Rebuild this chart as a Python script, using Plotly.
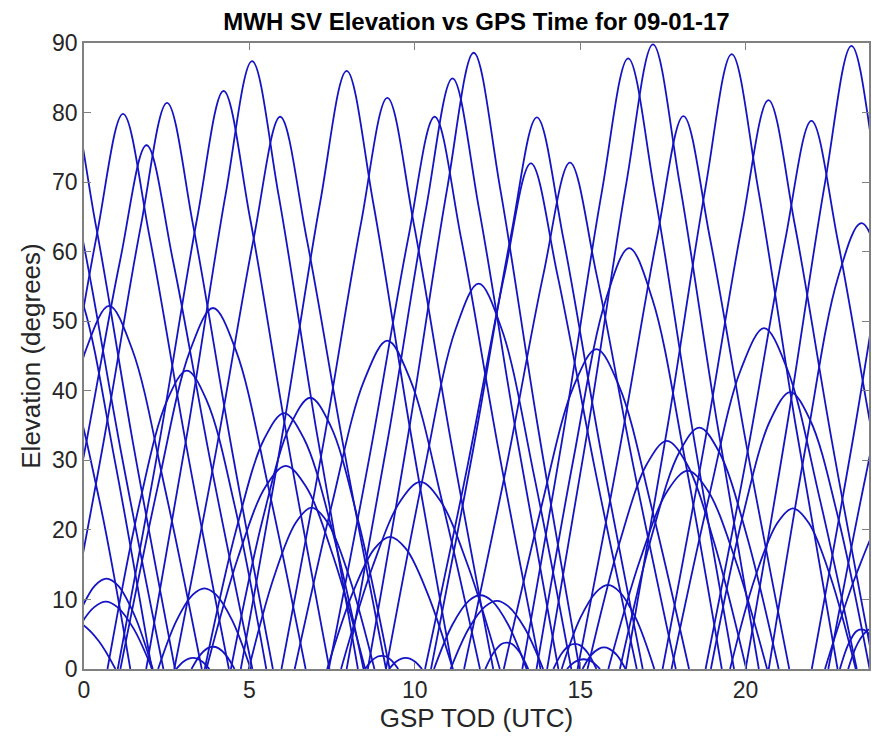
import plotly.graph_objects as go

# Satellite passes: (GPS time of day [h], elevation [deg])
high_passes = [
    ([-2.02, -0.74, 0.38, 1.18, 1.98, 3.10, 4.38], [0, 31.9, 62.2, 79.8, 62.2, 31.9, 0]),
    ([-1.31, -0.03, 1.09, 1.89, 2.69, 3.81, 5.09], [0, 30.1, 58.7, 75.3, 58.7, 30.1, 0]),
    ([-0.69, 0.59, 1.71, 2.51, 3.31, 4.43, 5.71], [0, 32.6, 63.5, 81.4, 63.5, 32.6, 0]),
    ([1.02, 2.30, 3.42, 4.22, 5.02, 6.14, 7.42], [0, 33.2, 64.8, 83.1, 64.8, 33.2, 0]),
    ([1.88, 3.16, 4.28, 5.08, 5.88, 7.00, 8.28], [0, 35.0, 68.2, 87.4, 68.2, 35.0, 0]),
    ([2.73, 4.01, 5.13, 5.93, 6.73, 7.85, 9.13], [0, 31.8, 61.9, 79.4, 61.9, 31.8, 0]),
    ([4.74, 6.02, 7.14, 7.94, 8.74, 9.86, 11.14], [0, 34.4, 67.1, 86.0, 67.1, 34.4, 0]),
    ([5.97, 7.25, 8.37, 9.17, 9.97, 11.09, 12.37], [0, 32.8, 64.0, 82.1, 64.0, 32.8, 0]),
    ([7.40, 8.68, 9.80, 10.60, 11.40, 12.52, 13.80], [0, 31.8, 61.9, 79.4, 61.9, 31.8, 0]),
    ([7.94, 9.22, 10.34, 11.14, 11.94, 13.06, 14.34], [0, 34.0, 66.2, 84.9, 66.2, 34.0, 0]),
    ([8.58, 9.86, 10.98, 11.78, 12.58, 13.70, 14.98], [0, 35.4, 69.1, 88.6, 69.1, 35.4, 0]),
    ([10.49, 11.77, 12.89, 13.69, 14.49, 15.61, 16.89], [0, 31.7, 61.9, 79.3, 61.9, 31.7, 0]),
    ([10.31, 11.59, 12.71, 13.51, 14.31, 15.43, 16.71], [0, 29.1, 56.7, 72.7, 56.7, 29.1, 0]),
    ([11.49, 12.77, 13.89, 14.69, 15.49, 16.61, 17.89], [0, 29.1, 56.8, 72.8, 56.8, 29.1, 0]),
    ([13.25, 14.53, 15.65, 16.45, 17.25, 18.37, 19.65], [0, 35.1, 68.5, 87.8, 68.5, 35.1, 0]),
    ([14.00, 15.28, 16.40, 17.20, 18.00, 19.12, 20.40], [0, 35.9, 70.0, 89.8, 70.0, 35.9, 0]),
    ([14.92, 16.20, 17.32, 18.12, 18.92, 20.04, 21.32], [0, 31.8, 62.0, 79.5, 62.0, 31.8, 0]),
    ([16.38, 17.66, 18.78, 19.58, 20.38, 21.50, 22.78], [0, 35.4, 69.0, 88.4, 69.0, 35.4, 0]),
    ([17.49, 18.77, 19.89, 20.69, 21.49, 22.61, 23.89], [0, 32.7, 63.8, 81.8, 63.8, 32.7, 0]),
    ([18.79, 20.07, 21.19, 21.99, 22.79, 23.91, 25.19], [0, 31.5, 61.5, 78.8, 61.5, 31.5, 0]),
    ([20.00, 21.28, 22.40, 23.20, 24.00, 25.12, 26.40], [0, 35.8, 69.9, 89.6, 69.9, 35.8, 0]),
]

mid_passes = [
    ([-2.04, -0.92, 0.06, 0.76, 1.46, 2.44, 3.56], [0, 26.1, 45.9, 52.2, 45.9, 26.1, 0]),
    ([1.10, 2.22, 3.20, 3.90, 4.60, 5.58, 6.70], [0, 26.0, 45.7, 51.9, 45.7, 26.0, 0]),
    ([6.37, 7.49, 8.47, 9.17, 9.87, 10.85, 11.97], [0, 23.6, 41.5, 47.2, 41.5, 23.6, 0]),
    ([9.13, 10.25, 11.23, 11.93, 12.63, 13.61, 14.73], [0, 27.7, 48.8, 55.4, 48.8, 27.7, 0]),
    ([13.68, 14.80, 15.78, 16.48, 17.18, 18.16, 19.28], [0, 30.3, 53.2, 60.5, 53.2, 30.3, 0]),
    ([12.69, 13.81, 14.79, 15.49, 16.19, 17.17, 18.29], [0, 23.0, 40.5, 46.0, 40.5, 23.0, 0]),
    ([17.76, 18.88, 19.86, 20.56, 21.26, 22.24, 23.36], [0, 24.5, 43.1, 49.0, 43.1, 24.5, 0]),
    ([20.70, 21.82, 22.80, 23.50, 24.20, 25.18, 26.30], [0, 32.1, 56.4, 64.1, 56.4, 32.1, 0]),
    ([0.71, 1.67, 2.51, 3.11, 3.71, 4.55, 5.51], [0, 23.6, 38.6, 42.9, 38.6, 23.6, 0]),
    ([4.44, 5.40, 6.24, 6.84, 7.44, 8.28, 9.24], [0, 21.5, 35.1, 39.0, 35.1, 21.5, 0]),
    ([3.65, 4.61, 5.45, 6.05, 6.65, 7.49, 8.45], [0, 20.2, 33.1, 36.8, 33.1, 20.2, 0]),
    ([18.95, 19.91, 20.75, 21.35, 21.95, 22.79, 23.75], [0, 21.9, 35.8, 39.8, 35.8, 21.9, 0]),
    ([16.20, 17.16, 18.00, 18.60, 19.20, 20.04, 21.00], [0, 19.1, 31.2, 34.7, 31.2, 19.1, 0]),
    ([15.22, 16.18, 17.02, 17.62, 18.22, 19.06, 20.02], [0, 18.0, 29.5, 32.8, 29.5, 18.0, 0]),
    ([3.70, 4.66, 5.50, 6.10, 6.70, 7.54, 8.50], [0, 16.1, 26.3, 29.2, 26.3, 16.1, 0]),
    ([7.77, 8.73, 9.57, 10.17, 10.77, 11.61, 12.57], [0, 14.8, 24.2, 26.9, 24.2, 14.8, 0]),
    ([15.85, 16.81, 17.65, 18.25, 18.85, 19.69, 20.65], [0, 15.7, 25.7, 28.5, 25.7, 15.7, 0]),
]

low_passes = [
    ([4.98, 5.74, 6.41, 6.88, 7.36, 8.02, 8.78], [0, 13.2, 21.1, 23.2, 21.1, 13.2, 0]),
    ([7.35, 8.11, 8.78, 9.25, 9.73, 10.39, 11.15], [0, 10.8, 17.3, 19.0, 17.3, 10.8, 0]),
    ([19.53, 20.29, 20.96, 21.43, 21.91, 22.57, 23.33], [0, 13.2, 21.0, 23.1, 21.0, 13.2, 0]),
    ([-0.72, -0.16, 0.33, 0.68, 1.03, 1.52, 2.08], [0, 7.8, 12.0, 13.0, 12.0, 7.8, 0]),
    ([-0.74, -0.18, 0.31, 0.66, 1.01, 1.50, 2.06], [0, 5.8, 8.9, 9.7, 8.9, 5.8, 0]),
    ([2.24, 2.80, 3.29, 3.64, 3.99, 4.48, 5.04], [0, 7.0, 10.7, 11.6, 10.7, 7.0, 0]),
    ([10.58, 11.14, 11.63, 11.98, 12.33, 12.82, 13.38], [0, 6.4, 9.8, 10.6, 9.8, 6.4, 0]),
    ([11.08, 11.64, 12.13, 12.48, 12.83, 13.32, 13.88], [0, 5.9, 9.0, 9.8, 9.0, 5.9, 0]),
    ([14.44, 15.00, 15.49, 15.84, 16.19, 16.68, 17.24], [0, 7.3, 11.1, 12.1, 11.1, 7.3, 0]),
    ([3.25, 3.51, 3.74, 3.90, 4.06, 4.29, 4.55], [0, 2.0, 3.0, 3.2, 3.0, 2.0, 0]),
    ([12.13, 12.39, 12.62, 12.78, 12.94, 13.17, 13.43], [0, 2.4, 3.6, 3.8, 3.6, 2.4, 0]),
    ([14.19, 14.45, 14.68, 14.84, 15.00, 15.23, 15.49], [0, 2.3, 3.4, 3.6, 3.4, 2.3, 0]),
    ([15.07, 15.33, 15.56, 15.72, 15.88, 16.11, 16.37], [0, 2.0, 2.9, 3.1, 2.9, 2.0, 0]),
    ([22.85, 23.11, 23.34, 23.50, 23.66, 23.89, 24.15], [0, 3.6, 5.4, 5.7, 5.4, 3.6, 0]),
    ([2.79, 2.99, 3.17, 3.29, 3.42, 3.59, 3.79], [0, 1.0, 1.5, 1.6, 1.5, 1.0, 0]),
    ([8.50, 8.70, 8.88, 9.00, 9.13, 9.30, 9.50], [0, 1.2, 1.8, 1.9, 1.8, 1.2, 0]),
    ([9.22, 9.42, 9.60, 9.72, 9.85, 10.02, 10.22], [0, 1.0, 1.5, 1.6, 1.5, 1.0, 0]),
    ([14.60, 14.80, 14.98, 15.10, 15.23, 15.40, 15.60], [0, 0.9, 1.3, 1.4, 1.3, 0.9, 0]),
]

# passes cut by the start / end of the day
edge_passes = [
    ([-3.65, -2.37, -1.25, -0.45, 0.35, 1.47, 2.75], [0, 32.8, 64.0, 82.0, 64.0, 32.8, 0]),
    ([-4.00, -2.72, -1.60, -0.80, 0.00, 1.12, 2.40], [0, 31.2, 60.8, 78.0, 60.8, 31.2, 0]),
    ([-3.55, -2.43, -1.45, -0.75, -0.05, 0.93, 2.05], [0, 30.0, 52.8, 60.0, 52.8, 30.0, 0]),
    ([-3.40, -2.44, -1.60, -1.00, -0.40, 0.44, 1.40], [0, 24.8, 40.5, 45.0, 40.5, 24.8, 0]),
    ([-1.70, -1.10, -0.70, -0.40, -0.05, 0.45, 0.95], [0, 4.2, 6.5, 7.0, 6.4, 4.0, 0]),
    ([22.00, 23.28, 24.40, 25.20], [0, 34.0, 66.3, 85.0]),
    ([22.50, 23.62, 24.60, 25.30], [0, 27.5, 48.4, 55.0]),
    ([22.40, 23.36, 24.20, 24.80], [0, 13.8, 22.5, 25.0]),
    ([23.10, 23.40, 23.70, 23.95], [0, 3.8, 5.6, 6.0]),
]

x_ticks = [0, 5, 10, 15, 20]
y_ticks = [0, 10, 20, 30, 40, 50, 60, 70, 80, 90]

xs, ys = [], []
for group in (high_passes, mid_passes, low_passes, edge_passes):
    for t, e in group:
        xs += list(t) + [None]
        ys += list(e) + [None]

fig = go.Figure()
fig.add_trace(go.Scatter(
    x=xs, y=ys, mode="lines",
    line=dict(color="#1414c4", width=1.8, shape="spline", smoothing=1.0),
    connectgaps=False, hoverinfo="skip", showlegend=False,
))

FONT = "Liberation Sans, Arial, sans-serif"
tick_font = dict(family=FONT, size=23, color="#262626")
label_font = dict(family=FONT, size=26, color="#262626")
fig.update_layout(
    width=872, height=748,
    margin=dict(l=84, r=1, t=43, b=79),
    paper_bgcolor="white", plot_bgcolor="white",
    font=dict(family=FONT, color="#262626"),
    title=dict(
        text="<b>MWH SV Elevation vs GPS Time for 09-01-17</b>",
        x=0.5, xref="paper", xanchor="center",
        y=1 - 22 / 748, yref="container", yanchor="middle",
        font=dict(family=FONT, size=24, color="black"),
    ),
    xaxis=dict(
        range=[0, 23.73], tickvals=x_ticks, ticks="inside", ticklen=7,
        tickcolor="#808080", showline=True, linecolor="#808080", linewidth=1.5,
        mirror="allticks", showgrid=False, zeroline=False,
        tickfont=tick_font,
        title=dict(text="GSP TOD (UTC)", font=label_font, standoff=6),
    ),
    yaxis=dict(
        range=[0, 90], tickvals=y_ticks, ticks="inside", ticklen=7,
        tickcolor="#808080", showline=True, linecolor="#808080", linewidth=1.5,
        mirror="allticks", showgrid=False, zeroline=False,
        tickfont=tick_font,
        title=dict(text="Elevation (degrees)", font=label_font, standoff=4),
    ),
)

fig.write_html("out.html")
